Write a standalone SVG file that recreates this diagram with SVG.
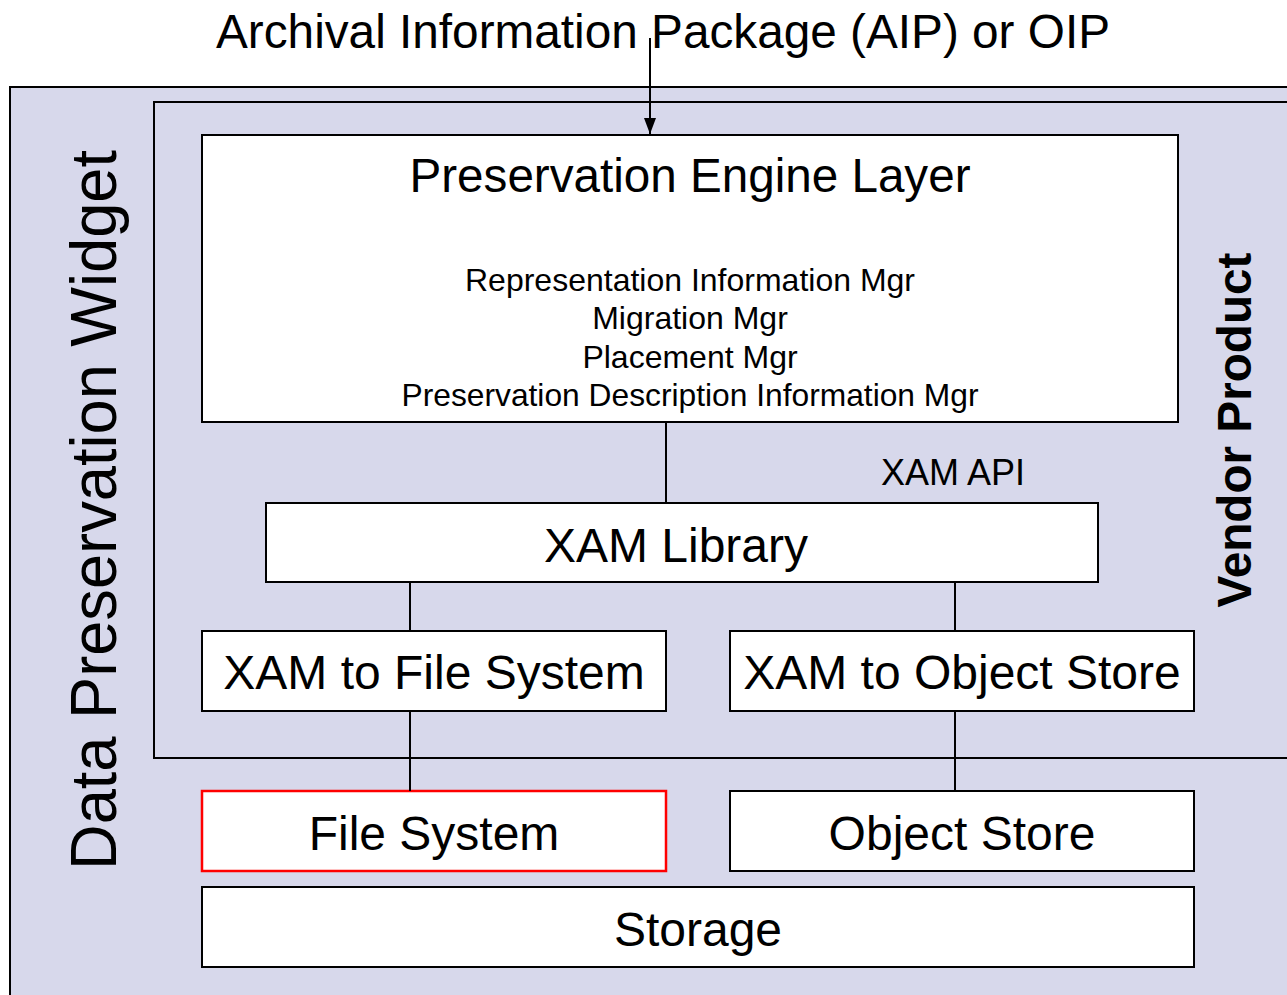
<svg xmlns="http://www.w3.org/2000/svg" width="1287" height="995" viewBox="0 0 1287 995">
<style>
  .t{font-family:"Liberation Sans",Arial,sans-serif;fill:#000;text-anchor:middle}
  .box{fill:#fff;stroke:#000;stroke-width:2}
  .conn{stroke:#000;stroke-width:2;fill:none}
</style>
<defs>
  <marker id="arr" viewBox="0 0 16 12" refX="16" refY="6" markerWidth="16" markerHeight="12" markerUnits="userSpaceOnUse" orient="auto">
    <path d="M0,0 L16,6 L0,12 Z" fill="#000"/>
  </marker>
</defs>
<rect width="1287" height="995" fill="#fff"/>
<g id="widget">
  <rect x="10" y="87" width="1300" height="930" fill="#D7D8EB" stroke="#000" stroke-width="2"/>
  <text class="t" font-size="64" transform="translate(116,510) rotate(-90)" textLength="720" lengthAdjust="spacingAndGlyphs">Data Preservation Widget</text>
</g>
<g id="vendor">
  <rect x="154" y="102" width="1160" height="656" fill="#D7D8EB" stroke="#000" stroke-width="2"/>
  <text class="t" font-size="48" font-weight="bold" transform="translate(1251,430) rotate(-90)" textLength="355" lengthAdjust="spacingAndGlyphs">Vendor Product</text>
</g>
<text class="t" font-size="48" x="663" y="48" textLength="894" lengthAdjust="spacingAndGlyphs">Archival Information Package (AIP) or OIP</text>
<g id="pel">
  <rect class="box" x="202" y="135" width="976" height="287"/>
  <text class="t" font-size="48" x="690" y="192" textLength="561" lengthAdjust="spacingAndGlyphs">Preservation Engine Layer</text>
  <text class="t" font-size="32" x="690" y="291">Representation Information Mgr</text>
  <text class="t" font-size="32" x="690" y="329">Migration Mgr</text>
  <text class="t" font-size="32" x="690" y="368">Placement Mgr</text>
  <text class="t" font-size="32" x="690" y="406" textLength="577" lengthAdjust="spacingAndGlyphs">Preservation Description Information Mgr</text>
</g>
<text class="t" font-size="36" x="953" y="485">XAM API</text>
<g id="xamlib">
  <rect class="box" x="266" y="503" width="832" height="79"/>
  <text class="t" font-size="48" x="676" y="562">XAM Library</text>
</g>
<g id="xamfs">
  <rect class="box" x="202" y="631" width="464" height="80"/>
  <text class="t" font-size="48" x="434" y="689">XAM to File System</text>
</g>
<g id="xamos">
  <rect class="box" x="730" y="631" width="464" height="80"/>
  <text class="t" font-size="48" x="962" y="689">XAM to Object Store</text>
</g>
<g id="fs">
  <rect x="202" y="791" width="464" height="80" fill="#fff" stroke="#FF0000" stroke-width="2.5"/>
  <text class="t" font-size="48" x="434" y="850">File System</text>
</g>
<g id="os">
  <rect class="box" x="730" y="791" width="464" height="80"/>
  <text class="t" font-size="48" x="962" y="850">Object Store</text>
</g>
<g id="storage">
  <rect class="box" x="202" y="887" width="992" height="80"/>
  <text class="t" font-size="48" x="698" y="946">Storage</text>
</g>
<g id="connectors">
  <line class="conn" x1="650" y1="38" x2="650" y2="134" marker-end="url(#arr)"/>
  <line class="conn" x1="666" y1="422" x2="666" y2="503"/>
  <line class="conn" x1="410" y1="582" x2="410" y2="631"/>
  <line class="conn" x1="955" y1="582" x2="955" y2="631"/>
  <line class="conn" x1="410" y1="711" x2="410" y2="791"/>
  <line class="conn" x1="955" y1="711" x2="955" y2="791"/>
</g>
</svg>
